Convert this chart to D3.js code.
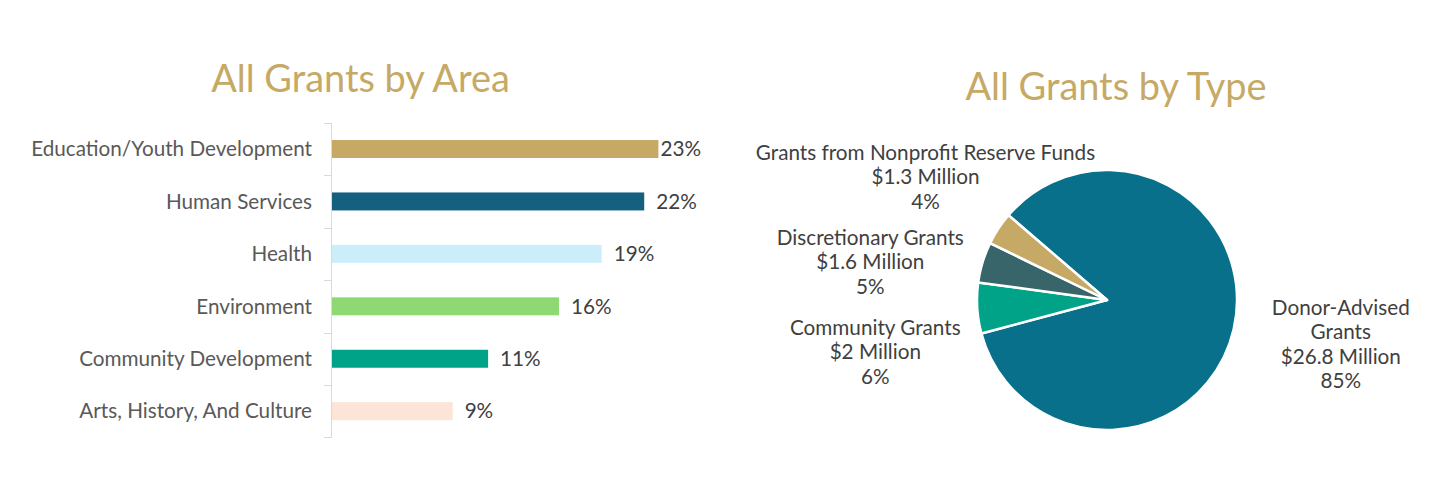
<!DOCTYPE html>
<html>
<head>
<meta charset="utf-8">
<script src="https://cdn.jsdelivr.net/npm/d3@7"></script>
<style>
  html, body { margin: 0; padding: 0; background: #fff; }
  svg { display: block; font-family: Lato, "Noto Sans", sans-serif; }
</style>
</head>
<body>
<svg id="chart" width="1450" height="480"></svg>
<script>
// ---- Data ----
const areaCategories = ["Education/Youth Development", "Human Services", "Health", "Environment", "Community Development", "Arts, History, And Culture"];
const areaValues = [23, 22, 19, 16, 11, 8.5];
const areaColors = ["#C6A965", "#155F7F", "#CCEEFA", "#8ED973", "#00A387", "#FCE4D6"];

const typeCategories = ["Donor-Advised Grants", "Community Grants", "Discretionary Grants", "Grants from Nonprofit Reserve Funds"];
const typeValues = [26.8, 2, 1.6, 1.3];       // $ millions
const typePercents = [85, 6, 5, 4];
const typeColors = ["#08708A", "#00A387", "#386569", "#C6A965"];
const typeLabelLines = [
  ["Donor-Advised", "Grants", "$26.8 Million", "85%"],
  ["Community Grants", "$2 Million", "6%"],
  ["Discretionary Grants", "$1.6 Million", "5%"],
  ["Grants from Nonprofit Reserve Funds", "$1.3 Million", "4%"]
];

const svg = d3.select("#chart");
const titleColor = "#C6A965";
const labelSize = 20.7;
const titleSize = 37.9;

// ---- Bar chart ----
const barG = svg.append("g");
barG.append("text")
  .attr("x", 360.5).attr("y", 91.7)
  .attr("text-anchor", "middle")
  .attr("font-size", titleSize).attr("fill", titleColor)
  .text("All Grants by Area");

const x = d3.scaleLinear().domain([0, 25]).range([332, 686.8]);
const y = d3.scaleBand().domain(areaCategories).range([122.8, 437.4])
  .paddingInner(0.657).paddingOuter(0.657 / 2);
const plotRight = 701;

// axis line + ticks at category boundaries
barG.append("line")
  .attr("x1", 331.5).attr("x2", 331.5)
  .attr("y1", y.range()[0]).attr("y2", y.range()[1])
  .attr("stroke", "#D9D9D9").attr("stroke-width", 1);
const bounds = d3.range(areaCategories.length + 1).map(i => y.range()[0] + i * y.step());
barG.selectAll("line.tick").data(bounds).enter().append("line")
  .attr("class", "tick")
  .attr("x1", 324).attr("x2", 331.5)
  .attr("y1", d => Math.round(d) + 0.5).attr("y2", d => Math.round(d) + 0.5)
  .attr("stroke", "#D9D9D9").attr("stroke-width", 1);

barG.selectAll("rect.bar").data(areaCategories).enter().append("rect")
  .attr("class", "bar")
  .attr("x", x(0))
  .attr("y", d => y(d))
  .attr("width", (d, i) => x(areaValues[i]) - x(0))
  .attr("height", y.bandwidth())
  .attr("fill", (d, i) => areaColors[i]);

barG.selectAll("text.cat").data(areaCategories).enter().append("text")
  .attr("class", "cat")
  .attr("x", 312)
  .attr("y", d => y(d) + y.bandwidth() / 2)
  .attr("dy", "0.35em")
  .attr("text-anchor", "end")
  .attr("font-size", labelSize).attr("fill", "#595959")
  .text(d => d);

barG.selectAll("text.val").data(areaCategories).enter().append("text")
  .attr("class", "val")
  .attr("y", d => y(d) + y.bandwidth() / 2)
  .attr("dy", "0.35em")
  .attr("font-size", labelSize).attr("fill", "#404040")
  .text((d, i) => Math.round(areaValues[i]) + "%")
  .each(function(d, i) {
    const w = this.getComputedTextLength();
    const lx = Math.min(x(areaValues[i]) + 12, plotRight - w);
    d3.select(this).attr("x", lx);
  });

// ---- Pie chart ----
const pieG = svg.append("g");
pieG.append("text")
  .attr("x", 1116).attr("y", 100)
  .attr("text-anchor", "middle")
  .attr("font-size", titleSize).attr("fill", titleColor)
  .text("All Grants by Type");

const cx = 1107, cy = 300, r = 130;
const start = -49.3 * Math.PI / 180;
const pie = d3.pie().sort(null).value(d => d).startAngle(start).endAngle(start + 2 * Math.PI);
const arc = d3.arc().innerRadius(0).outerRadius(r);
const arcs = pie(typeValues);

pieG.append("g").attr("transform", `translate(${cx},${cy})`)
  .selectAll("path").data(arcs).enter().append("path")
  .attr("d", arc)
  .attr("fill", (d, i) => typeColors[i])
  .attr("stroke", "#fff").attr("stroke-width", 2.5).attr("stroke-linejoin", "round");

// label anchor positions (center x, first baseline)
const labelPos = [[1340.8, 315], [875.3, 335], [870.3, 245], [925.5, 160]];
const lineH = 24.3;
typeLabelLines.forEach((lines, i) => {
  const t = pieG.append("text")
    .attr("text-anchor", "middle")
    .attr("font-size", labelSize).attr("fill", "#404040");
  lines.forEach((ln, j) => {
    t.append("tspan").attr("x", labelPos[i][0]).attr("y", labelPos[i][1] + j * lineH).text(ln);
  });
});
</script>
</body>
</html>
